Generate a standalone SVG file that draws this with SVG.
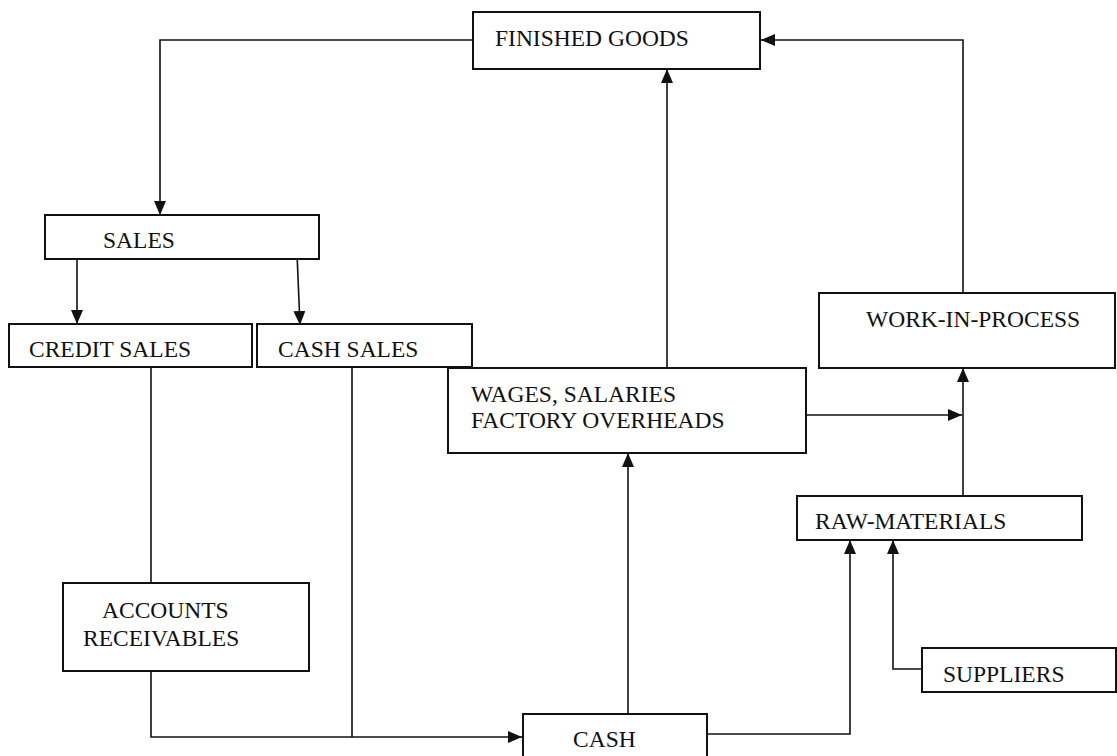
<svg xmlns="http://www.w3.org/2000/svg" width="1117" height="756" viewBox="0 0 1117 756">
<style>
.box{fill:#fff;stroke:#111;stroke-width:2}
.lbl{font-family:"Liberation Serif","Times New Roman",serif;font-size:23.5px;fill:#111}
.c{fill:none;stroke:#111;stroke-width:1.6}
.a{marker-end:url(#ah)}
</style>
<defs>
<marker id="ah" markerUnits="userSpaceOnUse" markerWidth="14" markerHeight="12" refX="14" refY="6" orient="auto">
<path d="M0,0 L14,6 L0,12 z" fill="#111"/>
</marker>
</defs>
<rect width="1117" height="756" fill="#fff"/>
<g id="connectors">
<path class="c a" d="M473,40 H160 V215"/>
<path class="c a" d="M77,259 V324"/>
<path class="c a" d="M297,253 L300,325"/>
<path class="c" d="M151,367 V583"/>
<path class="c a" d="M151,671 V737 H522"/>
<path class="c" d="M352,367 V737"/>
<path class="c a" d="M628,714 V453"/>
<path class="c a" d="M667,375 V69"/>
<path class="c a" d="M806,415 H962"/>
<path class="c a" d="M963,496 V368"/>
<path class="c a" d="M963,293 V40 H761"/>
<path class="c a" d="M705,734 H850 V540"/>
<path class="c a" d="M922,669 H893 V540"/>
</g>
<g id="finished-goods">
<rect class="box" x="473" y="12" width="287" height="57"/>
<text class="lbl" x="495" y="46">FINISHED GOODS</text>
</g>
<g id="sales">
<rect class="box" x="45" y="215" width="274" height="44"/>
<text class="lbl" x="103" y="248">SALES</text>
</g>
<g id="credit-sales">
<rect class="box" x="9" y="324" width="243" height="43"/>
<text class="lbl" x="29" y="357">CREDIT SALES</text>
</g>
<g id="cash-sales">
<rect class="box" x="257" y="324" width="215" height="43"/>
<text class="lbl" x="278" y="357">CASH SALES</text>
</g>
<g id="wages">
<rect class="box" x="448" y="368" width="358" height="85"/>
<text class="lbl" x="471" y="402">WAGES, SALARIES</text>
<text class="lbl" x="471" y="428">FACTORY OVERHEADS</text>
</g>
<g id="work-in-process">
<rect class="box" x="819" y="293" width="296" height="75"/>
<text class="lbl" x="866" y="327">WORK-IN-PROCESS</text>
</g>
<g id="raw-materials">
<rect class="box" x="797" y="496" width="285" height="44"/>
<text class="lbl" x="815" y="529">RAW-MATERIALS</text>
</g>
<g id="accounts-receivables">
<rect class="box" x="63" y="583" width="246" height="88"/>
<text class="lbl" x="102" y="618">ACCOUNTS</text>
<text class="lbl" x="83" y="646">RECEIVABLES</text>
</g>
<g id="suppliers">
<rect class="box" x="922" y="648" width="194" height="44"/>
<text class="lbl" x="943" y="682">SUPPLIERS</text>
</g>
<g id="cash">
<rect class="box" x="523" y="714" width="184" height="50"/>
<text class="lbl" x="573" y="747">CASH</text>
</g>
</svg>
